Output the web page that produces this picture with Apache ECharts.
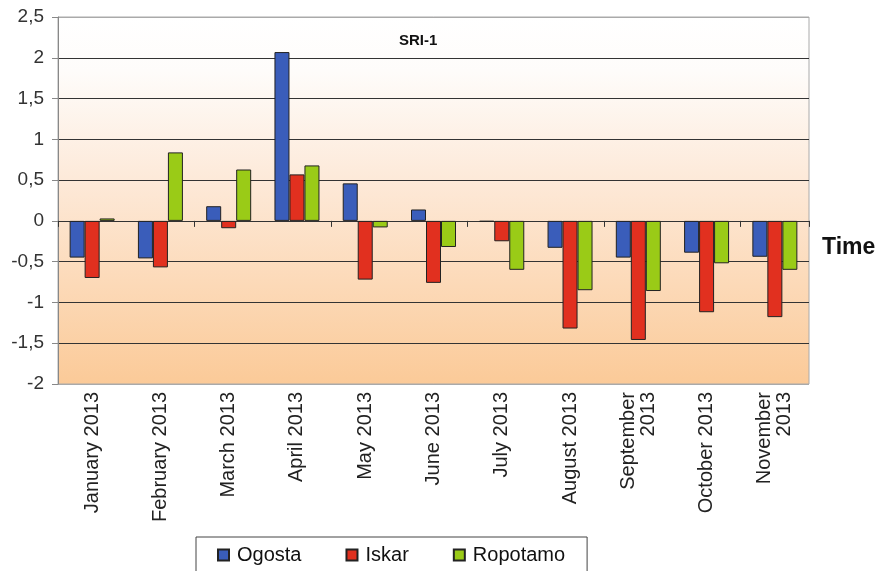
<!DOCTYPE html>
<html>
<head>
<meta charset="utf-8">
<script src="https://cdn.jsdelivr.net/npm/echarts@6/dist/echarts.min.js"></script>
<style>
  html, body { margin: 0; padding: 0; background: #fff; }
  #chart { width: 880px; height: 571px; }
</style>
</head>
<body>
<div id="chart"></div>
<script>
  // SRI-1 monthly values per river
  const months = ['January 2013', 'February 2013', 'March 2013', 'April 2013', 'May 2013', 'June 2013',
    'July 2013', 'August 2013', 'September\n2013', 'October 2013', 'November\n2013'];
  const ogosta = [-0.45, -0.46, 0.18, 2.07, 0.46, 0.14, -0.01, -0.33, -0.45, -0.39, -0.44];
  const iskar = [-0.70, -0.57, -0.09, 0.57, -0.72, -0.76, -0.25, -1.32, -1.46, -1.12, -1.18];
  const ropotamo = [0.03, 0.84, 0.63, 0.68, -0.08, -0.32, -0.60, -0.85, -0.86, -0.52, -0.60];
  const yTicks = [-2, -1.5, -1, -0.5, 0, 0.5, 1, 1.5, 2, 2.5];

  const myChart = echarts.init(document.getElementById('chart'));

  const barItem = (color) => ({
    color: color,
    borderColor: '#222',
    borderWidth: 1
  });

  const gridLineColors = yTicks.map((v, i) => (i === 0 || i === yTicks.length - 1) ? '#aaa' : '#333');

  const options = {
    backgroundColor: '#fff',
    animation: false,
    textStyle: { fontFamily: 'Liberation Sans, Arial, sans-serif' },
    title: [{
      text: 'SRI-1',
      left: 394,
      top: 28,
      textStyle: { fontSize: 15, fontWeight: 'bold', color: '#111' }
    }, {
      text: 'Time',
      left: 817,
      top: 231,
      textStyle: { fontSize: 23, fontWeight: 'bold', color: '#111' }
    }],
    legend: {
      left: 196,
      top: 537,
      padding: [8, 22, 30, 21],
      borderColor: '#444',
      borderWidth: 1,
      itemWidth: 11,
      itemHeight: 11,
      itemGap: 44,
      icon: 'rect',
      textStyle: { fontSize: 20, color: '#111', padding: [0, 0, 0, 3] },
      data: ['Ogosta', 'Iskar', 'Ropotamo']
    },
    grid: {
      left: 58,
      right: 71,
      top: 17,
      bottom: 187,
      show: true,
      borderColor: '#aaa',
      borderWidth: 1,
      backgroundColor: {
        type: 'linear', x: 0, y: 0, x2: 0, y2: 1,
        colorStops: [
          { offset: 0, color: '#ffffff' },
          { offset: 0.15, color: '#fefcfa' },
          { offset: 0.45, color: '#fde9d8' },
          { offset: 1, color: '#fbca98' }
        ]
      }
    },
    xAxis: [{
      type: 'category',
      data: months,
      position: 'bottom',
      axisLine: { show: false, onZero: false },
      axisTick: { show: false },
      splitLine: { show: false },
      axisLabel: {
        rotate: 90,
        margin: 8,
        interval: 0,
        fontSize: 20,
        color: '#222',
        lineHeight: 20
      }
    }, {
      type: 'category',
      data: months,
      position: 'bottom',
      axisLine: { show: true, onZero: true, lineStyle: { color: '#333', width: 1.2 } },
      axisTick: { show: true, length: 6, lineStyle: { color: '#333' } },
      axisLabel: { show: false },
      splitLine: { show: false }
    }],
    yAxis: {
      type: 'value',
      min: -2,
      max: 2.5,
      interval: 0.5,
      axisLine: { show: true, lineStyle: { color: '#888' } },
      axisTick: { show: true, length: 6, lineStyle: { color: '#888' } },
      axisLabel: {
        fontSize: 19,
        color: '#333',
        margin: 14,
        formatter: (v) => String(v).replace('.', ',')
      },
      splitLine: { show: true, lineStyle: { color: gridLineColors, width: 1.2 } }
    },
    series: [{
      name: 'Ogosta',
      type: 'bar',
      barWidth: 15,
      barGap: '0%',
      itemStyle: barItem('#3a5dba'),
      data: ogosta
    }, {
      name: 'Iskar',
      type: 'bar',
      barWidth: 15,
      barGap: '0%',
      itemStyle: barItem('#e1301f'),
      data: iskar
    }, {
      name: 'Ropotamo',
      type: 'bar',
      barWidth: 15,
      barGap: '0%',
      itemStyle: barItem('#9acb17'),
      data: ropotamo
    }]
  };

  myChart.setOption(options);
</script>
</body>
</html>
